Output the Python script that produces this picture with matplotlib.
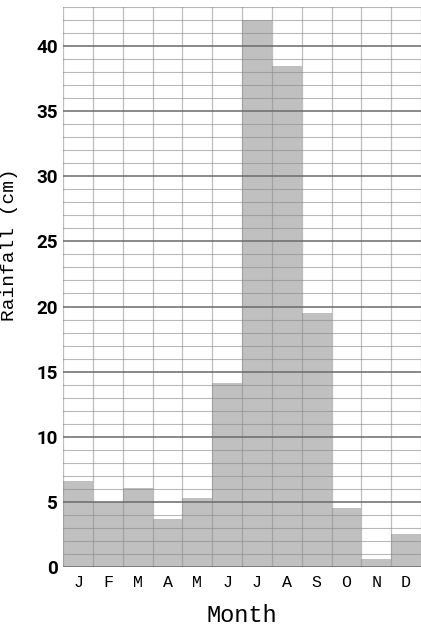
import numpy as np
import matplotlib
matplotlib.use("Agg")
import matplotlib.pyplot as plt

months = ['J', 'F', 'M', 'A', 'M', 'J', 'J', 'A', 'S', 'O', 'N', 'D']
rainfall = [6.6, 5.0, 6.1, 3.7, 5.3, 14.1, 42.0, 38.5, 19.5, 4.5, 0.65, 2.5]
mono = ['Courier New', 'Liberation Mono', 'DejaVu Sans Mono']

fig = plt.figure(figsize=(4.21, 6.31), dpi=100)
ax = fig.add_axes([0.150, 0.1014, 0.850, 0.8876])

x = np.arange(len(months))
ax.bar(x, rainfall, width=1.0, align='edge', color='#c0c0c0', edgecolor='none', zorder=1)

# graph-paper grid drawn over the bars
ax.set_xlim(0, 12)
ax.set_ylim(0, 43)
ax.set_yticks(range(0, 45, 5))
ax.set_yticks(range(0, 44, 1), minor=True)
ax.set_xticks(x + 0.5)
ax.set_xticks(range(0, 13), minor=True)
ax.set_xticklabels(months, family=mono, fontsize=12)
ax.set_yticklabels([str(v) for v in range(0, 45, 5)], fontsize=13.5, fontweight='bold',
                   family='Roboto')
ax.grid(which='major', axis='y', color='#6a6a6a', linewidth=1.1, zorder=3)
ax.grid(which='minor', axis='y', color='#8a8a8a', linewidth=0.8, alpha=0.6, zorder=3)
ax.grid(which='minor', axis='x', color='#8a8a8a', linewidth=0.9, alpha=0.55, zorder=3)
ax.set_axisbelow(False)
ax.tick_params(which='both', length=0, pad=4)
ax.tick_params(axis='x', pad=6)

for s in ax.spines.values():
    s.set_visible(False)

ax.set_xlabel('Month', family=mono, fontsize=17, labelpad=10)
ax.set_ylabel('Rainfall (cm)', family=mono, fontsize=14, labelpad=6)
ax.yaxis.set_label_coords(-0.125, 0.575)

fig.savefig('out.png', dpi=100)
